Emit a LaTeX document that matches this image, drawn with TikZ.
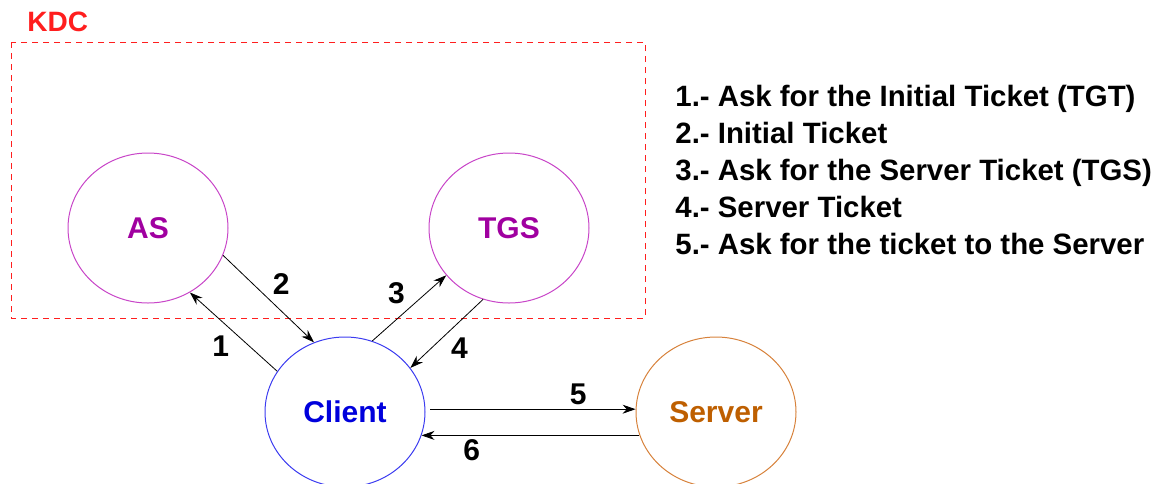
\documentclass[tikz,border=0pt]{standalone}
\usepackage{fontspec}
\setmainfont{Liberation Sans}
\usetikzlibrary{shapes.geometric,arrows.meta}
\definecolor{kdcred}{RGB}{255,30,30}
\definecolor{kdcpurple}{RGB}{160,0,160}
\definecolor{kdcpurpleline}{RGB}{200,70,200}
\definecolor{clientblue}{RGB}{0,0,220}
\definecolor{clientblueline}{RGB}{60,60,240}
\definecolor{serverorange}{RGB}{190,95,0}
\definecolor{serverorangeline}{RGB}{215,130,60}
\tikzset{
	entity/.style={ellipse, draw, line width=0.5pt, minimum width=80pt, minimum height=75pt, inner sep=0pt, font=\fontsize{15}{18}\selectfont\bfseries},
	arr/.style={-{Stealth[length=6.5pt,width=4.5pt]}, line width=0.4pt},
	num/.style={black, font=\fontsize{15}{18}\selectfont\bfseries, inner sep=2pt}
}

\begin{document}
\begin{tikzpicture}[x=0.5pt,y=-0.5pt]
					\useasboundingbox (0,0) rectangle (1163,483);
					% KDC box
					\draw[kdcred, dash pattern=on 3pt off 2.5pt, line width=0.5pt] (11,42) rectangle (645,318);
					\node[kdcred, anchor=south west, inner sep=0pt, font=\fontsize{14}{16}\selectfont\bfseries] (kdc) at (27,32) {KDC};
					% servers and client
					\node[entity, draw=kdcpurpleline, text=kdcpurple] (as) at (148,228) {AS};
					\node[entity, draw=kdcpurpleline, text=kdcpurple] (tgs) at (509,228) {TGS};
					\node[entity, draw=clientblueline, text=clientblue] (client) at (345,412) {Client};
					\node[entity, draw=serverorangeline, text=serverorange] (server) at (716,412) {Server};
					\path[arr]
					(client.149) edge node [num, below left] {1} (as.-57)
					(as.-20) edge node [num, above right] {2} (client.114)
					(client.69) edge node [num, above left] {3} (tgs.-143)
					(tgs.-110) edge node [num, below right] {4} (client.34)
					([xshift=2.5pt]client.2) edge node [num, above, pos=0.72] {5} (server.178)
					(server.197) edge node [num, below, pos=0.77] {6} (client.-17);
					% legend
					\node[anchor=west, align=left, inner sep=0pt, font=\fontsize{14.7}{18.5}\selectfont\bfseries] (legend) at (675,170)
					{1.- Ask for the Initial Ticket (TGT)\\
					2.- Initial Ticket\\
					3.- Ask for the Server Ticket (TGS)\\
					4.- Server Ticket\\
					5.- Ask for the ticket to the Server};
				\end{tikzpicture}
\end{document}
